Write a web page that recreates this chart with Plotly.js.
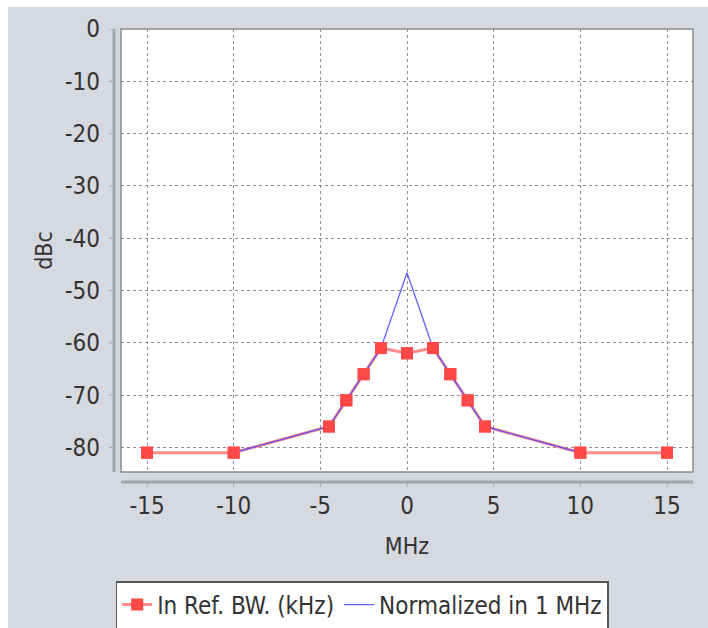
<!DOCTYPE html>
<html>
<head>
<meta charset="utf-8">
<script src="https://cdn.plot.ly/plotly-3.0.1.min.js"></script>
<style>
html,body{margin:0;padding:0;background:#fff;}
#chart{position:absolute;left:8px;top:7px;width:700px;height:621px;}
</style>
</head>
<body>
<div id="chart"></div>
<script>
// Data
const refX = [-15, -10, -4.5, -3.5, -2.5, -1.5, 0, 1.5, 2.5, 3.5, 4.5, 10, 15];
const refY = [-81, -81, -76, -71, -66, -61, -62, -61, -66, -71, -76, -81, -81];
const normX = [-10, -4.5, -3.5, -2.5, -1.5, 0, 1.5, 2.5, 3.5, 4.5, 10];
const normY = [-81, -76, -71, -66, -61, -46.6, -61, -66, -71, -76, -81];
const xTicks = [-15, -10, -5, 0, 5, 10, 15];
const yTicks = [0, -10, -20, -30, -40, -50, -60, -70, -80];
const seriesNames = ['In Ref. BW. (kHz)', 'Normalized in 1 MHz'];

const W = 700, H = 621;
const M = {l: 113, r: 15, t: 22, b: 156};
const pw = W - M.l - M.r, ph = H - M.t - M.b;
const px = v => v / pw, py = v => v / ph;

const fontFam = '"Liberation Sans Narrow", "DejaVu Sans Condensed", "Liberation Sans", sans-serif';
const txt = '#333333';
const axisGray = '#a3a6ab';

const traces = [
  {x: refX, y: refY, name: seriesNames[0], type: 'scatter', mode: 'lines+markers',
   line: {color: 'rgba(255,90,90,0.7)', width: 3},
   marker: {symbol: 'square', size: 12, color: '#ff4848'}},
  {x: normX, y: normY, name: seriesNames[1], type: 'scatter', mode: 'lines',
   line: {color: 'rgba(70,70,255,0.85)', width: 1.3}},
  {x: refX, y: refY, showlegend: false, type: 'scatter', mode: 'markers', hoverinfo: 'skip',
   marker: {symbol: 'square', size: 12, color: '#ff4848'}}
];

const shapes = [];
shapes.push({type: 'rect', xref: 'paper', yref: 'paper', x0: 0, x1: 1, y0: 0, y1: 1,
  line: {color: '#8a8a8a', width: 1.5}, layer: 'above'});
shapes.push({type: 'line', xref: 'paper', yref: 'paper', x0: -px(7), x1: -px(7), y0: 0, y1: 1,
  line: {color: axisGray, width: 3}});
shapes.push({type: 'line', xref: 'paper', yref: 'paper', x0: 0, x1: 1, y0: -py(10), y1: -py(10),
  line: {color: axisGray, width: 3}});
yTicks.forEach(v => shapes.push({type: 'line', xref: 'paper', yref: 'y', x0: -px(8), x1: -px(12), y0: v, y1: v,
  line: {color: axisGray, width: 1}}));
xTicks.forEach(v => shapes.push({type: 'line', xref: 'x', yref: 'paper', x0: v, x1: v, y0: -py(11), y1: -py(15),
  line: {color: axisGray, width: 1}}));

const layout = {
  width: W, height: H,
  margin: M,
  paper_bgcolor: '#d6d9e0',
  plot_bgcolor: '#ffffff',
  font: {family: fontFam, color: txt},
  showlegend: true,
  xaxis: {
    range: [-16.5, 16.5], tickvals: xTicks, ticktext: xTicks.map(String),
    showgrid: true, gridcolor: '#8f8f8f', griddash: '3px,3px', gridwidth: 1,
    zeroline: false, showline: false, ticks: '', automargin: false,
    tickfont: {size: 24, family: fontFam, color: txt},
    ticklabelstandoff: 17,
    title: {text: 'MHz', font: {size: 23, family: fontFam, color: txt}, standoff: 18}
  },
  yaxis: {
    range: [-84.7, 0], tickvals: yTicks, ticktext: yTicks.map(String),
    showgrid: true, gridcolor: '#8f8f8f', griddash: '3px,3px', gridwidth: 1,
    zeroline: false, showline: false, ticks: '', automargin: false,
    tickfont: {size: 24, family: fontFam, color: txt},
    ticklabelstandoff: 20,
    title: {text: 'dBc', font: {size: 23, family: fontFam, color: txt}, standoff: 5}
  },
  legend: {
    orientation: 'h', x: 0.506, xref: 'container', xanchor: 'center',
    y: 1 - 574 / H, yref: 'container', yanchor: 'top',
    bgcolor: '#ffffff', bordercolor: '#555555', borderwidth: 1.5,
    font: {size: 24, family: fontFam, color: txt}, traceorder: 'normal'
  },
  shapes: shapes
};

Plotly.newPlot('chart', traces, layout, {displayModeBar: false, staticPlot: true});
</script>
</body>
</html>
